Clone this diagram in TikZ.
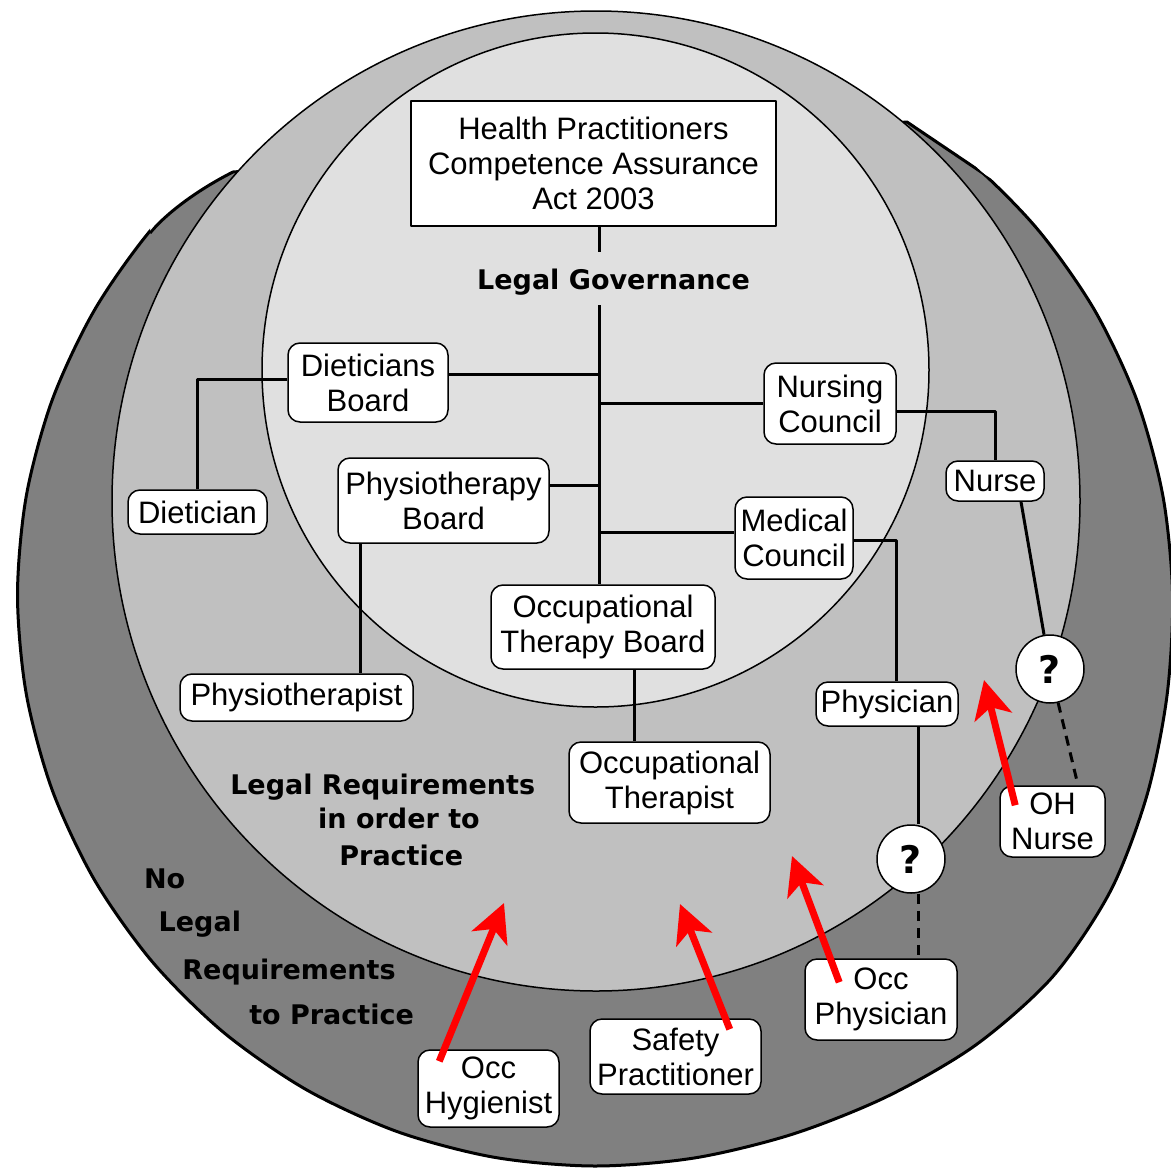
\documentclass[tikz,border=0pt]{standalone}
\usepackage{fontspec}
\setmainfont{Liberation Sans}
\newfontfamily\lblfont{DejaVu Sans}
\usetikzlibrary{arrows.meta,calc}
\definecolor{darkg}{HTML}{808080}
\definecolor{midg}{HTML}{C0C0C0}
\definecolor{lightg}{HTML}{E0E0E0}
\definecolor{arrred}{HTML}{FF0000}
\begin{document}
\begin{tikzpicture}[x=1pt,y=-1pt,line join=round,
  box/.style={draw,fill=white,line width=1.5pt,rounded corners=12pt,inner sep=0pt,align=center,
    font=\fontsize{31}{35}\selectfont},
  sz/.style 2 args={minimum width=#1pt,minimum height=#2pt},
  qnode/.style={circle,draw,fill=white,line width=1.5pt,minimum size=68pt,inner sep=0pt,
    font=\lblfont\bfseries\fontsize{38}{40}\selectfont},
  lbl/.style={anchor=base,inner sep=0pt,font=\lblfont\bfseries\fontsize{27}{30}\selectfont},
  conn/.style={line width=3pt},
  dashconn/.style={line width=3pt,dash pattern=on 10pt off 7pt},
  redarr/.style={line width=7pt,draw=arrred,-{Stealth[length=38pt,width=38pt,inset=10pt]}}]
\useasboundingbox (0,0) rectangle (1171,1168);
\clip (0,0) rectangle (1171,1168);
\fill[white] (0,0) rectangle (1171,1168);
% outer zone, cut at its top by the middle zone
\begin{scope}
  \clip (0,1168) -- (0,0) -- (150,0) -- (150,233) .. controls (170,209) and (205,186) .. (233,172)
        -- (907,122) -- (1171,300) -- (1171,1168) -- cycle;
  \filldraw[fill=darkg,draw=black,line width=3pt] plot[smooth cycle] coordinates {
    (1172.6,595) (1167.1,694.9) (1147.3,794.1) (1110.9,890.2) (1053.2,976.1) (975.9,1044.9)
    (887.1,1096.5) (792.8,1134.1) (694.8,1157.9) (594.5,1166) (494.3,1157.3) (397.2,1131.6)
    (306.0,1089.5) (223.6,1032.4) (152.5,962.0) (94.8,880.5) (52.3,790.3) (26.3,694.1)
    (17.5,595) (26.3,495.9) (52.3,399.7) (94.8,309.5) (152.5,228.0) (223.6,157.6)
    (306.0,100.5) (397.2,58.4) (494.3,32.7) (594.5,24) (694.7,32.7) (791.8,58.4)
    (883.0,100.5) (965.4,157.6) (1036.5,228.0) (1094.2,309.5) (1136.7,399.7) (1162.9,495.9)};
\end{scope}
\begin{scope}
  \clip plot[smooth cycle] coordinates {
    (1172.6,595) (1167.1,694.9) (1147.3,794.1) (1110.9,890.2) (1053.2,976.1) (975.9,1044.9)
    (887.1,1096.5) (792.8,1134.1) (694.8,1157.9) (594.5,1166) (494.3,1157.3) (397.2,1131.6)
    (306.0,1089.5) (223.6,1032.4) (152.5,962.0) (94.8,880.5) (52.3,790.3) (26.3,694.1)
    (17.5,595) (26.3,495.9) (52.3,399.7) (94.8,309.5) (152.5,228.0) (223.6,157.6)
    (306.0,100.5) (397.2,58.4) (494.3,32.7) (594.5,24) (694.7,32.7) (791.8,58.4)
    (883.0,100.5) (965.4,157.6) (1036.5,228.0) (1094.2,309.5) (1136.7,399.7) (1162.9,495.9)};
  \draw[line width=3pt] (150,233) .. controls (170,209) and (205,186) .. (233,172)
        -- (907,122) -- (1171,300);
\end{scope}
\filldraw[fill=midg,draw=black,line width=1.5pt] (596,501) ellipse [x radius=484pt,y radius=490pt];
\filldraw[fill=lightg,draw=black,line width=1.5pt] (595.5,370) ellipse [x radius=333.5pt,y radius=337pt];
% labels
\node[lbl] (lg) at (613.5,289) {Legal Governance};
\node[lbl] (lr1) at (382.7,794.5) {Legal Requirements};
\node[lbl] (lr2) at (399,828) {in order to};
\node[lbl] (lr3) at (401.3,865) {Practice};
\node[lbl] (nl1) at (164.6,888) {No};
\node[lbl] (nl2) at (199.9,931.7) {Legal};
\node[lbl] (nl3) at (289,979) {Requirements};
\node[lbl] (nl4) at (331.6,1024) {to Practice};
% nodes
\node[box,sharp corners,sz={365}{125}] (health) at (593.5,163.5) {Health Practitioners\\Competence Assurance\\Act 2003};
\node[box,sz={160}{79}] (dietB) at (368,382.5) {Dieticians\\Board};
\node[box,sz={139}{44}] (diet) at (197.5,512) {Dietician};
\node[box,sz={211}{85}] (physB) at (443.5,500.5) {Physiotherapy\\Board};
\node[box,sz={233}{47}] (physio) at (296.5,697.5) {Physiotherapist};
\node[box,sz={132}{81}] (nursC) at (830,403.5) {Nursing\\Council};
\node[box,sz={98}{40}] (nurse) at (995,481) {Nurse};
\node[box,sz={118}{82}] (medC) at (794,538) {Medical\\Council};
\node[box,sz={224}{84}] (otB) at (603,627) {Occupational\\Therapy Board};
\node[box,sz={201}{81}] (ot) at (669.5,782.5) {Occupational\\Therapist};
\node[box,sz={142}{44}] (phys) at (887,704) {Physician};
\node[qnode] (q1) at (1050,669) {?};
\node[qnode] (q2) at (911,859) {?};
\node[box,sz={105}{71}] (ohn) at (1052.5,821.5) {OH\\Nurse};
\node[box,sz={152}{81}] (occP) at (881,999.5) {Occ\\Physician};
\node[box,sz={171}{75}] (safety) at (675.5,1056.5) {Safety\\Practitioner};
\node[box,sz={141}{77}] (hyg) at (488.5,1088.5) {Occ\\Hygienist};
% connectors
\coordinate (trunk) at (599,0);
\draw[conn,shorten >=16pt] (health.south -| trunk) -- (lg.north -| trunk);
\draw[conn,shorten <=10pt] (lg.south -| trunk) -- (otB.north -| trunk);
\draw[conn] (dietB.east |- 0,374) -- (trunk |- 0,374);
\draw[conn] (dietB.west |- 0,379) -| (diet.north);
\draw[conn] (physB.east |- 0,485) -- (trunk |- 0,485);
\draw[conn] (physB.south -| 360,0) -- (physio.north -| 360,0);
\draw[conn] (trunk |- 0,403) -- (nursC.west |- 0,403);
\draw[conn] (nursC.east |- 0,411) -| (nurse.north);
\draw[conn] (nurse.south -| 1021,0) -- (q1);
\draw[conn] (trunk |- 0,532) -- (medC.west |- 0,532);
\draw[conn] (medC.east |- 0,540) -| (phys.north -| 896,0);
\draw[conn] (phys.south -| 918,0) -- (q2.north -| 918,0);
\draw[conn] (otB.south -| 634,0) -- (ot.north -| 634,0);
\draw[dashconn] (q2.south -| 918,0) -- (occP.north -| 918,0);
\draw[dashconn] (q1) -- (ohn.north -| 1078,0);
% red arrows
\coordinate (tA) at (504,903);
\coordinate (tB) at (680,904);
\coordinate (tC) at (792,856);
\coordinate (tD) at (984,680);
\draw[redarr] ($(hyg.north west)+(22,12)$) -- (tA);
\draw[redarr] ($(safety.north east)+(-32,11)$) -- (tB);
\draw[redarr] ($(occP.north west)+(35,24)$) -- (tC);
\draw[redarr] ($(ohn.north west)+(16,20)$) -- (tD);
\end{tikzpicture}
\end{document}
